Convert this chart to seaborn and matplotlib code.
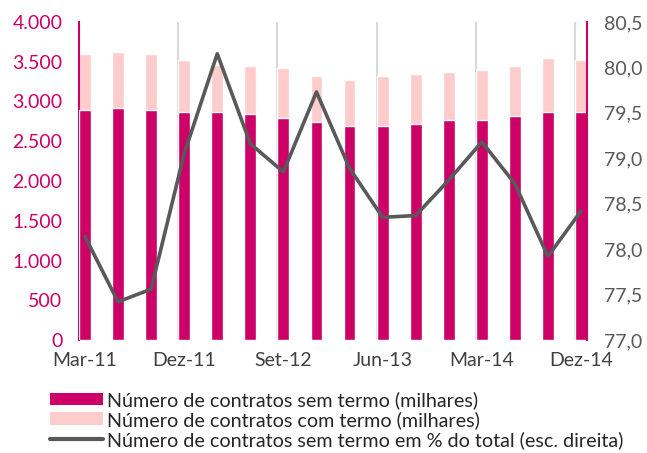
import matplotlib
matplotlib.use("Agg")
import matplotlib.pyplot as plt
import seaborn as sns
import numpy as np
import pandas as pd
from matplotlib.patches import Patch
from matplotlib.lines import Line2D

# ---- data ----
quarters = ["Mar-11", "Jun-11", "Set-11", "Dez-11", "Mar-12", "Jun-12", "Set-12", "Dez-12",
            "Mar-13", "Jun-13", "Set-13", "Dez-13", "Mar-14", "Jun-14", "Set-14", "Dez-14"]
sem_termo = [2890, 2915, 2890, 2870, 2870, 2840, 2790, 2740,
             2690, 2690, 2715, 2765, 2765, 2815, 2865, 2865]
com_termo = [705, 705, 705, 650, 585, 605, 630, 580,
             580, 630, 630, 605, 630, 630, 680, 655]
pct_sem_termo = [78.14, 77.42, 77.56, 79.05, 80.15, 79.16, 78.85, 79.73,
                 78.89, 78.35, 78.37, 78.76, 79.18, 78.72, 77.92, 78.42]
left_ticks = [0, 500, 1000, 1500, 2000, 2500, 3000, 3500, 4000]
left_labels = ["0", "500", "1.000", "1.500", "2.000", "2.500", "3.000", "3.500", "4.000"]
right_ticks = [77.0, 77.5, 78.0, 78.5, 79.0, 79.5, 80.0, 80.5]
right_labels = ["77,0", "77,5", "78,0", "78,5", "79,0", "79,5", "80,0", "80,5"]
shown_idx = [0, 3, 6, 9, 12, 15]

legend_labels = ["Número de contratos sem termo (milhares)",
                 "Número de contratos com termo (milhares)",
                 "Número de contratos sem termo em % do total (esc. direita)"]

MAGENTA = "#CC0066"
PINK = "#FFCCCC"
GREY = "#58595B"
GRID = "#D9D9D9"

df = pd.DataFrame({"q": quarters, "sem": sem_termo, "com": com_termo, "pct": pct_sem_termo})
df["total"] = df["sem"] + df["com"]
df["pos"] = np.arange(len(df))

sns.set_theme(style="white")
plt.rcParams["font.family"] = ["Lato", "DejaVu Sans"]

fig = plt.figure(figsize=(6.47, 4.53), dpi=100)
ax = fig.add_axes([79 / 647, 1 - 340 / 453, (587 - 79) / 647, (340 - 22) / 453])

W = 0.36
sns.barplot(data=df, x="q", y="total", color=PINK, width=W, saturation=1, ax=ax, zorder=2)
sns.barplot(data=df, x="q", y="sem", color=MAGENTA, width=W, saturation=1, ax=ax, zorder=3)

n = len(quarters)
ax.set_xlim(-W / 2, n - 1 + W / 2)
ax.set_ylim(0, 4000)
for i in shown_idx[1:]:
    ax.axvline(i - W / 2, color=GRID, lw=1.5, zorder=1)

ax.set_yticks(left_ticks)
ax.set_yticklabels(left_labels)
ax.set_xticks(shown_idx)
ax.set_xticklabels([quarters[i] for i in shown_idx])
ax.tick_params(axis="y", length=0, pad=12, labelsize=14, labelcolor=MAGENTA)
ax.tick_params(axis="x", length=0, pad=9, labelsize=14, labelcolor="#404040")
ax.set_xlabel("")
ax.set_ylabel("")
for s in ["top", "bottom", "right"]:
    ax.spines[s].set_visible(False)
ax.spines["left"].set_color(MAGENTA)
ax.spines["left"].set_linewidth(1.5)

ax2 = ax.twinx()
sns.lineplot(data=df, x="pos", y="pct", color=GREY, lw=2.6, ax=ax2)
ax2.set_ylim(77.0, 80.5)
ax2.set_yticks(right_ticks)
ax2.set_yticklabels(right_labels)
ax2.tick_params(axis="y", length=0, pad=12, labelsize=14, labelcolor="#595959")
ax2.set_ylabel("")
ax2.set_xlabel("")
for s in ["top", "bottom", "left"]:
    ax2.spines[s].set_visible(False)
ax2.spines["right"].set_color(MAGENTA)
ax2.spines["right"].set_linewidth(1.5)
ax2.set_xlim(-W / 2, n - 1 + W / 2)

handles = [Patch(facecolor=MAGENTA, edgecolor="none"),
           Patch(facecolor=PINK, edgecolor="none"),
           Line2D([], [], color=GREY, lw=3)]
fig.legend(handles, legend_labels, loc="upper left",
           bbox_to_anchor=(50 / 647, 1 - 391 / 453), frameon=False,
           fontsize=14.2, handlelength=2.68, handleheight=0.62, handletextpad=0.2,
           labelspacing=0.1, borderpad=0, borderaxespad=0, labelcolor="#262626")

fig.savefig("out.png", dpi=100)
